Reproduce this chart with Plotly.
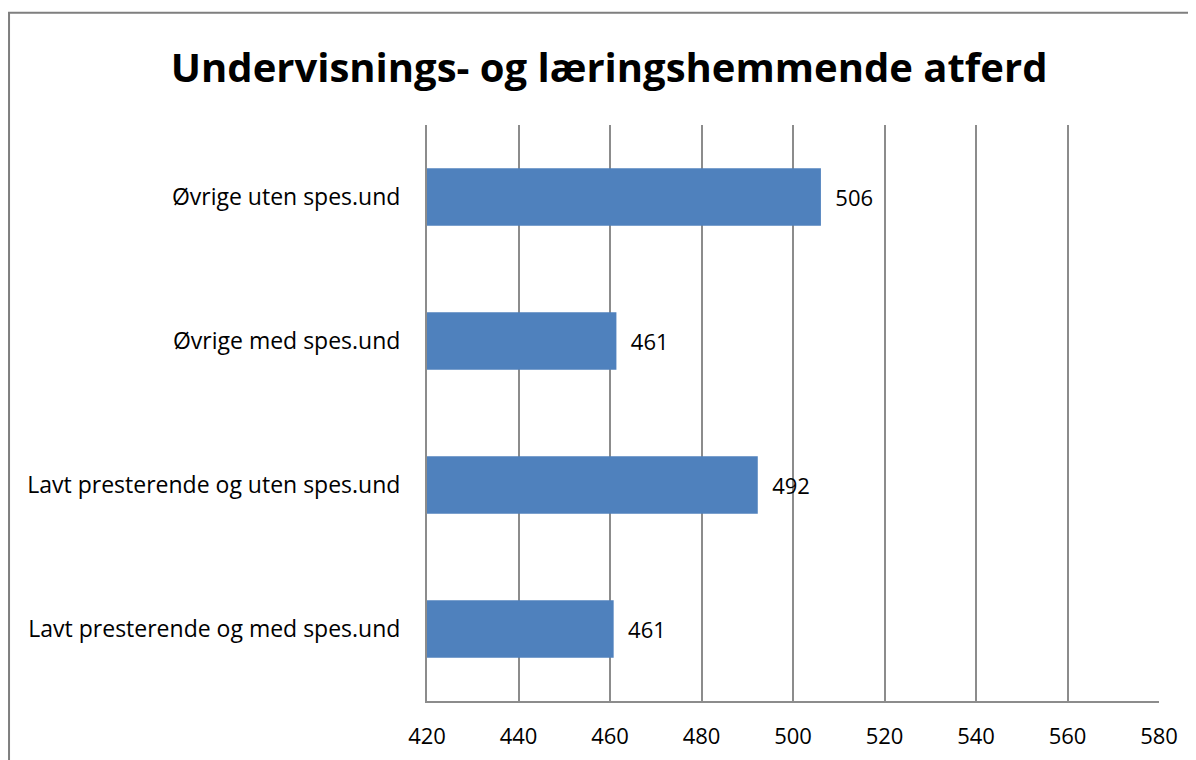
import plotly.graph_objects as go

# data (bottom to top)
categories = ['Lavt presterende og med spes.und', 'Lavt presterende og uten spes.und',
              'Øvrige med spes.und', 'Øvrige uten spes.und']
values = [460.8, 492.3, 461.4, 506.1]
labels = ['461', '492', '461', '506']

bar_color = '#4F81BD'
grid_color = '#8C8C8C'
font_family = 'Open Sans, Noto Sans, sans-serif'

# the page body has an 8px margin, so the figure is sized/offset for it
fig = go.Figure(
    go.Bar(y=categories, x=values, orientation='h', base=0,
           marker=dict(color=bar_color, line=dict(width=0)),
           text=['\u00a0\u00a0' + s for s in labels], textposition='outside', cliponaxis=False,
           textfont=dict(size=22, color='black', family=font_family))
)

fig.update_layout(
    width=1188, height=752,
    margin=dict(l=419, r=37, t=117, b=59, autoexpand=False),
    paper_bgcolor='white', plot_bgcolor='white',
    bargap=0.6,
    showlegend=False,
    font=dict(family=font_family, color='black'),
    title=dict(text='<b>Undervisnings- og læringshemmende atferd</b>',
               x=0.506, xanchor='center', y=0.92, yanchor='middle',
               font=dict(size=40, family=font_family, color='black')),
    xaxis=dict(range=[420, 580], dtick=20, tick0=420, showgrid=True,
               gridcolor=grid_color, gridwidth=2, zeroline=False,
               showline=True, linecolor=grid_color, linewidth=2, automargin=False,
               ticks='', ticklabelstandoff=15, tickfont=dict(size=22)),
    yaxis=dict(showgrid=False, showline=True, linecolor=grid_color, linewidth=2,
               automargin=False,
               ticks='', ticklabelstandoff=20, tickfont=dict(size=23)),
    shapes=[dict(type='rect', xref='paper', yref='paper',
                 x0=-0.571, x1=1.2, y0=-0.3, y1=1.1948,
                 line=dict(color='#7F7F7F', width=2), layer='below')],
)

fig.write_html('out.html')
